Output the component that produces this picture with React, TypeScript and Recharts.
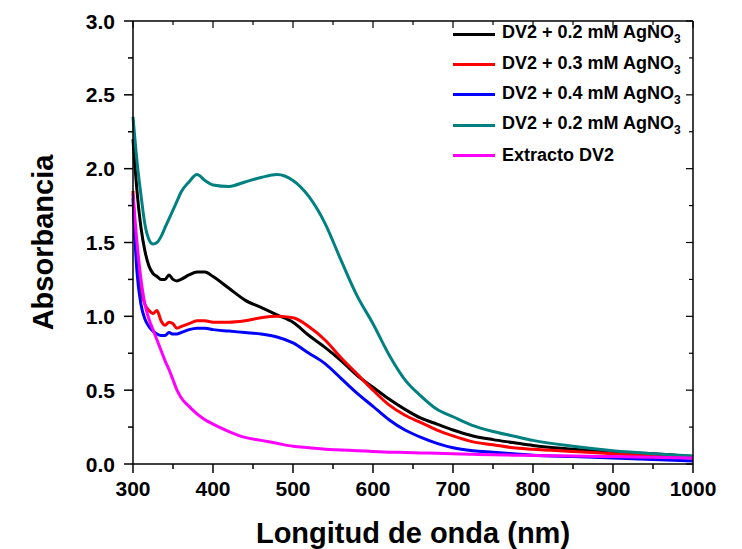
import React from "react";
import { LineChart, Line, XAxis, YAxis } from "recharts";

// wavelength (nm)
const wavelengths = [
  300, 305, 310, 315, 320, 325, 330, 335, 340, 345, 350, 355, 360, 370, 380, 390, 400,
  420, 440, 460, 480, 500, 520, 540, 560, 580, 600, 620, 640, 660, 680, 700,
  725, 750, 775, 800, 850, 900, 950, 1000,
];

const dv2_02 = [
  2.2, 1.85, 1.6, 1.44, 1.34, 1.29, 1.27, 1.25, 1.25, 1.28, 1.25, 1.24, 1.25, 1.28, 1.3, 1.3, 1.27,
  1.19, 1.11, 1.06, 1.01, 0.96, 0.87, 0.79, 0.7, 0.6, 0.52, 0.44, 0.37, 0.31, 0.27, 0.23,
  0.19, 0.165, 0.145, 0.125, 0.1, 0.08, 0.07, 0.05,
];
const dv2_03 = [
  1.85, 1.35, 1.17, 1.08, 1.04, 1.02, 1.04, 0.97, 0.94, 0.96, 0.95, 0.92, 0.93, 0.95, 0.97, 0.97, 0.96,
  0.96, 0.97, 0.99, 1.0, 0.99, 0.93, 0.84, 0.72, 0.61, 0.5, 0.4, 0.33, 0.28, 0.23, 0.19,
  0.15, 0.13, 0.11, 0.1, 0.085, 0.07, 0.055, 0.04,
];
const dv2_04 = [
  1.8, 1.3, 1.08, 0.98, 0.93, 0.9, 0.88, 0.87, 0.87, 0.89, 0.88, 0.88, 0.89, 0.91, 0.92, 0.92, 0.91,
  0.9, 0.89, 0.88, 0.86, 0.82, 0.75, 0.68, 0.58, 0.48, 0.39, 0.3, 0.23, 0.18, 0.14, 0.11,
  0.09, 0.08, 0.07, 0.06, 0.05, 0.04, 0.03, 0.02,
];
const dv2_02b = [
  2.35, 2.05, 1.82, 1.62, 1.52, 1.49, 1.5, 1.54, 1.6, 1.66, 1.72, 1.78, 1.84, 1.91, 1.96, 1.92, 1.89,
  1.88, 1.91, 1.94, 1.96, 1.92, 1.81, 1.63, 1.38, 1.14, 0.95, 0.74, 0.57, 0.46, 0.37, 0.32,
  0.26, 0.22, 0.19, 0.16, 0.12, 0.09, 0.07, 0.055,
];
const extracto = [
  1.83, 1.5, 1.25, 1.08, 0.98, 0.91, 0.84, 0.77, 0.7, 0.64, 0.57, 0.5, 0.45, 0.39, 0.34, 0.3, 0.27,
  0.22, 0.18, 0.16, 0.14, 0.12, 0.11, 0.1, 0.095, 0.09, 0.085, 0.08, 0.078, 0.075, 0.072, 0.07,
  0.066, 0.062, 0.06, 0.058, 0.054, 0.05, 0.045, 0.04,
];

const xTicks = [300, 350, 400, 450, 500, 550, 600, 650, 700, 750, 800, 850, 900, 950, 1000];
const yTicks = [0, 0.25, 0.5, 0.75, 1, 1.25, 1.5, 1.75, 2, 2.25, 2.5, 2.75, 3];

const series = [
  { key: "a", name: "DV2 + 0.2 mM AgNO", sub: "3", color: "#000000", values: dv2_02 },
  { key: "b", name: "DV2 + 0.3 mM AgNO", sub: "3", color: "#ff0000", values: dv2_03 },
  { key: "c", name: "DV2 + 0.4 mM AgNO", sub: "3", color: "#0000ff", values: dv2_04 },
  { key: "d", name: "DV2 + 0.2 mM AgNO", sub: "3", color: "#008080", values: dv2_02b },
  { key: "e", name: "Extracto DV2", sub: "", color: "#ff00ff", values: extracto },
];

const data = wavelengths.map((w, i) => {
  const row: Record<string, number> = { w };
  series.forEach((s) => (row[s.key] = s.values[i]));
  return row;
});

const FONT = "'Liberation Sans', Arial, sans-serif";

function BottomTick({ x, y, payload }: any) {
  const major = payload.value % 100 === 0;
  return (
    <g>
      <line x1={x} y1={y} x2={x} y2={y + (major ? 9 : 5)} stroke="#000" strokeWidth={1.5} />
      {major && (
        <text x={x} y={y + 32} textAnchor="middle" fontSize={21} fontWeight="bold" fill="#000" fontFamily={FONT}>
          {payload.value}
        </text>
      )}
    </g>
  );
}

function TopTick({ x, y, payload }: any) {
  const major = payload.value % 100 === 0;
  return <line x1={x} y1={y} x2={x} y2={y + (major ? 7 : 4)} stroke="#000" strokeWidth={1.2} />;
}

function LeftTick({ x, y, payload }: any) {
  const major = Math.round(payload.value * 4) % 2 === 0;
  return (
    <g>
      <line x1={x} y1={y} x2={x - (major ? 9 : 5)} y2={y} stroke="#000" strokeWidth={1.5} />
      {major && (
        <text x={x - 18} y={y + 7.5} textAnchor="end" fontSize={21} fontWeight="bold" fill="#000" fontFamily={FONT}>
          {payload.value.toFixed(1)}
        </text>
      )}
    </g>
  );
}

function RightTick({ x, y, payload }: any) {
  const major = Math.round(payload.value * 4) % 2 === 0;
  return <line x1={x} y1={y} x2={x - (major ? 7 : 4)} y2={y} stroke="#000" strokeWidth={1.2} />;
}

function LegendBox() {
  return (
    <div
      style={{
        position: "absolute",
        left: 453,
        top: 19,
        fontFamily: FONT,
        fontWeight: "bold",
        fontSize: 18,
        color: "#000",
      }}
    >
      {series.map((s) => (
        <div key={s.key} style={{ display: "flex", alignItems: "center", height: 30.3 }}>
          <span style={{ display: "inline-block", width: 42, height: 3, background: s.color, marginRight: 7 }} />
          <span style={{ whiteSpace: "nowrap" }}>
            {s.name}
            {s.sub && <sub style={{ fontSize: 12 }}>{s.sub}</sub>}
          </span>
        </div>
      ))}
    </div>
  );
}

export default function App() {
  return (
    <div style={{ position: "absolute", left: 0, top: 0, width: 742, height: 549, background: "#fff", fontFamily: FONT }}>
      <LineChart width={742} height={549} data={data} margin={{ top: 20, right: 48, bottom: 0, left: 33 }}>
        <XAxis
          xAxisId={0}
          dataKey="w"
          type="number"
          domain={[300, 1000]}
          ticks={xTicks}
          interval={0}
          height={85}
          tickSize={0}
          tickMargin={0}
          tickLine={false}
          axisLine={{ stroke: "#000", strokeWidth: 1.5 }}
          tick={<BottomTick />}
          label={{
            content: ({ viewBox }: any) => (
              <text
                x={viewBox.x + viewBox.width / 2}
                y={viewBox.y + 79}
                textAnchor="middle"
                fontSize={29}
                fontWeight="bold"
                fill="#000"
                fontFamily={FONT}
              >
                Longitud de onda (nm)
              </text>
            ),
          }}
        />
        <XAxis
          xAxisId="top"
          orientation="top"
          dataKey="w"
          type="number"
          domain={[300, 1000]}
          ticks={xTicks}
          interval={0}
          height={1}
          tickSize={0}
          tickMargin={0}
          tickLine={false}
          axisLine={{ stroke: "#000", strokeWidth: 1.5 }}
          tick={<TopTick />}
        />
        <YAxis
          yAxisId={0}
          type="number"
          domain={[0, 3]}
          ticks={yTicks}
          interval={0}
          width={100}
          tickSize={0}
          tickMargin={0}
          tickLine={false}
          axisLine={{ stroke: "#000", strokeWidth: 1.5 }}
          tick={<LeftTick />}
          label={{
            content: ({ viewBox }: any) => {
              const cx = 43;
              const cy = viewBox.y + viewBox.height / 2;
              return (
                <text
                  x={cx}
                  y={cy}
                  textAnchor="middle"
                  dominantBaseline="central"
                  transform={`rotate(-90, ${cx}, ${cy})`}
                  fontSize={29}
                  fontWeight="bold"
                  fill="#000"
                  fontFamily={FONT}
                >
                  Absorbancia
                </text>
              );
            },
          }}
        />
        <YAxis
          yAxisId="right"
          orientation="right"
          type="number"
          domain={[0, 3]}
          ticks={yTicks}
          interval={0}
          width={1}
          tickSize={0}
          tickMargin={0}
          tickLine={false}
          axisLine={{ stroke: "#000", strokeWidth: 1.5 }}
          tick={<RightTick />}
        />
        {/* invisible series so the frame axes (top / right) get drawn */}
        <Line
          xAxisId="top"
          yAxisId="right"
          dataKey="e"
          stroke="none"
          dot={false}
          legendType="none"
          isAnimationActive={false}
        />
        {series.map((s) => (
          <Line
            key={s.key}
            dataKey={s.key}
            name={s.name}
            type="monotone"
            stroke={s.color}
            strokeWidth={3}
            dot={false}
            isAnimationActive={false}
          />
        ))}
      </LineChart>
      <LegendBox />
    </div>
  );
}
